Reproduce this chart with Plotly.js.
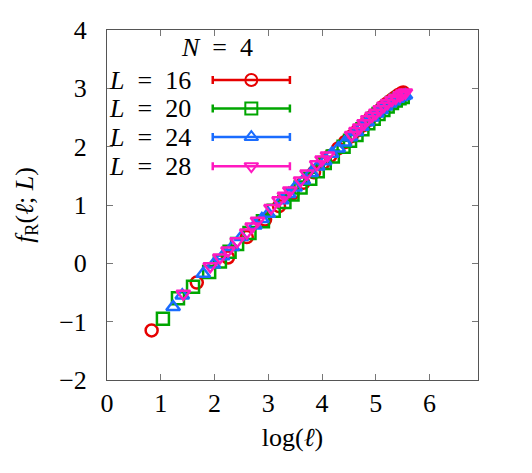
<!DOCTYPE html>
<html>
<head>
<meta charset="utf-8">
<script src="https://cdn.plot.ly/plotly-3.0.1.min.js"></script>
<style>html,body{margin:0;padding:0;background:#fff;}#chart{width:532px;height:473px;}</style>
</head>
<body>
<div id="chart"></div>
<script>
// L = 16
const x16 = [0.83, 1.67, 2.25, 2.60, 2.94, 3.20, 3.45, 3.65, 3.85, 4.02, 4.15, 4.30, 4.43, 4.55, 4.66, 4.77, 4.87, 4.96, 5.05, 5.13, 5.21, 5.28, 5.35, 5.41, 5.47, 5.51];
const y16 = [-1.15, -0.33, 0.10, 0.45, 0.75, 0.98, 1.20, 1.38, 1.56, 1.72, 1.84, 1.97, 2.08, 2.18, 2.28, 2.37, 2.46, 2.54, 2.61, 2.68, 2.74, 2.79, 2.84, 2.88, 2.91, 2.93];
// L = 20
const x20 = [1.04, 1.32, 1.60, 1.90, 2.10, 2.28, 2.42, 2.65, 2.90, 3.10, 3.30, 3.45, 3.60, 3.78, 3.92, 4.05, 4.20, 4.40, 4.52, 4.64, 4.75, 4.86, 4.96, 5.05, 5.14, 5.22, 5.30, 5.37, 5.44, 5.50];
const y20 = [-0.95, -0.60, -0.40, -0.15, 0.03, 0.20, 0.33, 0.52, 0.72, 0.90, 1.05, 1.18, 1.30, 1.45, 1.58, 1.72, 1.83, 2.00, 2.10, 2.20, 2.30, 2.40, 2.48, 2.56, 2.63, 2.69, 2.75, 2.79, 2.83, 2.85];
// L = 24
const x24 = [1.23, 1.40, 1.79, 1.98, 2.15, 2.33, 2.50, 2.75, 2.88, 3.00, 3.25, 3.38, 3.50, 3.65, 3.80, 3.92, 4.05, 4.18, 4.30, 4.42, 4.53, 4.64, 4.74, 4.84, 4.93, 5.02, 5.10, 5.18, 5.26, 5.33, 5.40, 5.46, 5.52, 5.55];
const y24 = [-0.75, -0.55, -0.18, -0.02, 0.12, 0.28, 0.45, 0.65, 0.76, 0.85, 1.08, 1.19, 1.30, 1.42, 1.55, 1.66, 1.75, 1.88, 1.97, 2.07, 2.16, 2.25, 2.34, 2.42, 2.50, 2.57, 2.63, 2.69, 2.74, 2.78, 2.82, 2.85, 2.87, 2.88];
// L = 28
const x28 = [1.42, 1.92, 2.10, 2.25, 2.42, 2.60, 2.70, 2.80, 3.05, 3.20, 3.30, 3.40, 3.60, 3.72, 3.90, 4.00, 4.10, 4.55, 4.63, 4.70, 4.78, 4.85, 4.93, 5.00, 5.08, 5.15, 5.22, 5.30, 5.37, 5.45, 5.50, 5.55];
const y28 = [-0.52, -0.05, 0.10, 0.22, 0.38, 0.53, 0.63, 0.73, 0.95, 1.08, 1.16, 1.25, 1.42, 1.54, 1.70, 1.78, 1.85, 2.20, 2.27, 2.33, 2.40, 2.47, 2.53, 2.58, 2.64, 2.70, 2.75, 2.80, 2.84, 2.88, 2.91, 2.93];

const seriesLabels = ['<i>L</i>&#8194;=&#8194;16', '<i>L</i>&#8194;=&#8194;20', '<i>L</i>&#8194;=&#8194;24', '<i>L</i>&#8194;=&#8194;28'];
const legendTitle = '<i>N</i>&#8194;=&#8194;4';
const xTickVals = [0, 1, 2, 3, 4, 5, 6];
const yTickVals = [-2, -1, 0, 1, 2, 3, 4];

const colors = ['#e60000', '#00a600', '#1a6cff', '#ff19c0'];
const symbols = ['circle-open', 'square-open', 'triangle-up-open', 'triangle-down-open'];
const xs = [x16, x20, x24, x28];
const ys = [y16, y20, y24, y28];

const FONT = 'Liberation Serif';
const traces = [];
for (let i = 0; i < 4; i++) {
  traces.push({
    x: xs[i], y: ys[i], type: 'scatter', mode: 'markers',
    marker: {symbol: symbols[i], size: 12, color: colors[i], line: {width: 2.5, color: colors[i]}},
    showlegend: false, hoverinfo: 'skip'
  });
}
// custom legend keys (paper-like overlay axes)
const legRowY = [0.857, 0.776, 0.694, 0.611];
for (let i = 0; i < 4; i++) {
  traces.push({
    x: [0.389], y: [legRowY[i]], xaxis: 'x2', yaxis: 'y2', type: 'scatter', mode: 'markers',
    marker: {symbol: symbols[i], size: 12, color: colors[i], line: {width: 2, color: colors[i]}},
    error_x: {type: 'constant', value: 0.104, thickness: 2.5, width: 4, color: colors[i]},
    showlegend: false, hoverinfo: 'skip'
  });
}
const annotations = [{
  text: legendTitle, xref: 'paper', yref: 'paper', x: 0.296, y: 0.95,
  xanchor: 'center', yanchor: 'middle', showarrow: false,
  font: {family: FONT, size: 26, color: '#000'}
}];
for (let i = 0; i < 4; i++) {
  annotations.push({
    text: seriesLabels[i], xref: 'paper', yref: 'paper', x: 0.0, y: legRowY[i],
    xanchor: 'left', yanchor: 'middle', showarrow: false,
    font: {family: FONT, size: 26, color: '#000'}
  });
}
const axisCommon = {
  showgrid: false, zeroline: false, showline: true, linecolor: '#555', linewidth: 1,
  mirror: 'ticks', ticks: 'inside', ticklen: 6, tickcolor: '#777', tickwidth: 1,
  tickfont: {family: FONT, size: 26, color: '#000'}
};
const layout = {
  width: 532, height: 473,
  font: {family: FONT, size: 26, color: '#000'},
  margin: {l: 107, r: 54, t: 30, b: 93},
  paper_bgcolor: '#fff', plot_bgcolor: '#fff',
  showlegend: false,
  xaxis: Object.assign({}, axisCommon, {
    range: [0, 6.9], tickvals: xTickVals, ticklabelstandoff: 0,
    title: {text: 'log(<i>ℓ</i>)', font: {family: FONT, size: 26, color: '#000'}, standoff: 10}
  }),
  yaxis: Object.assign({}, axisCommon, {
    range: [-2, 4], tickvals: yTickVals, ticklabelstandoff: 14,
    title: {text: '<i>f</i><sub>R</sub>(<i>ℓ</i>; <i>L</i>)', font: {family: FONT, size: 26, color: '#000'}, standoff: 18}
  }),
  xaxis2: {overlaying: 'x', range: [0, 1], visible: false, fixedrange: true},
  yaxis2: {overlaying: 'y', range: [0, 1], visible: false, fixedrange: true},
  annotations: annotations
};
Plotly.newPlot('chart', traces, layout, {displayModeBar: false, staticPlot: true});
</script>
</body>
</html>
